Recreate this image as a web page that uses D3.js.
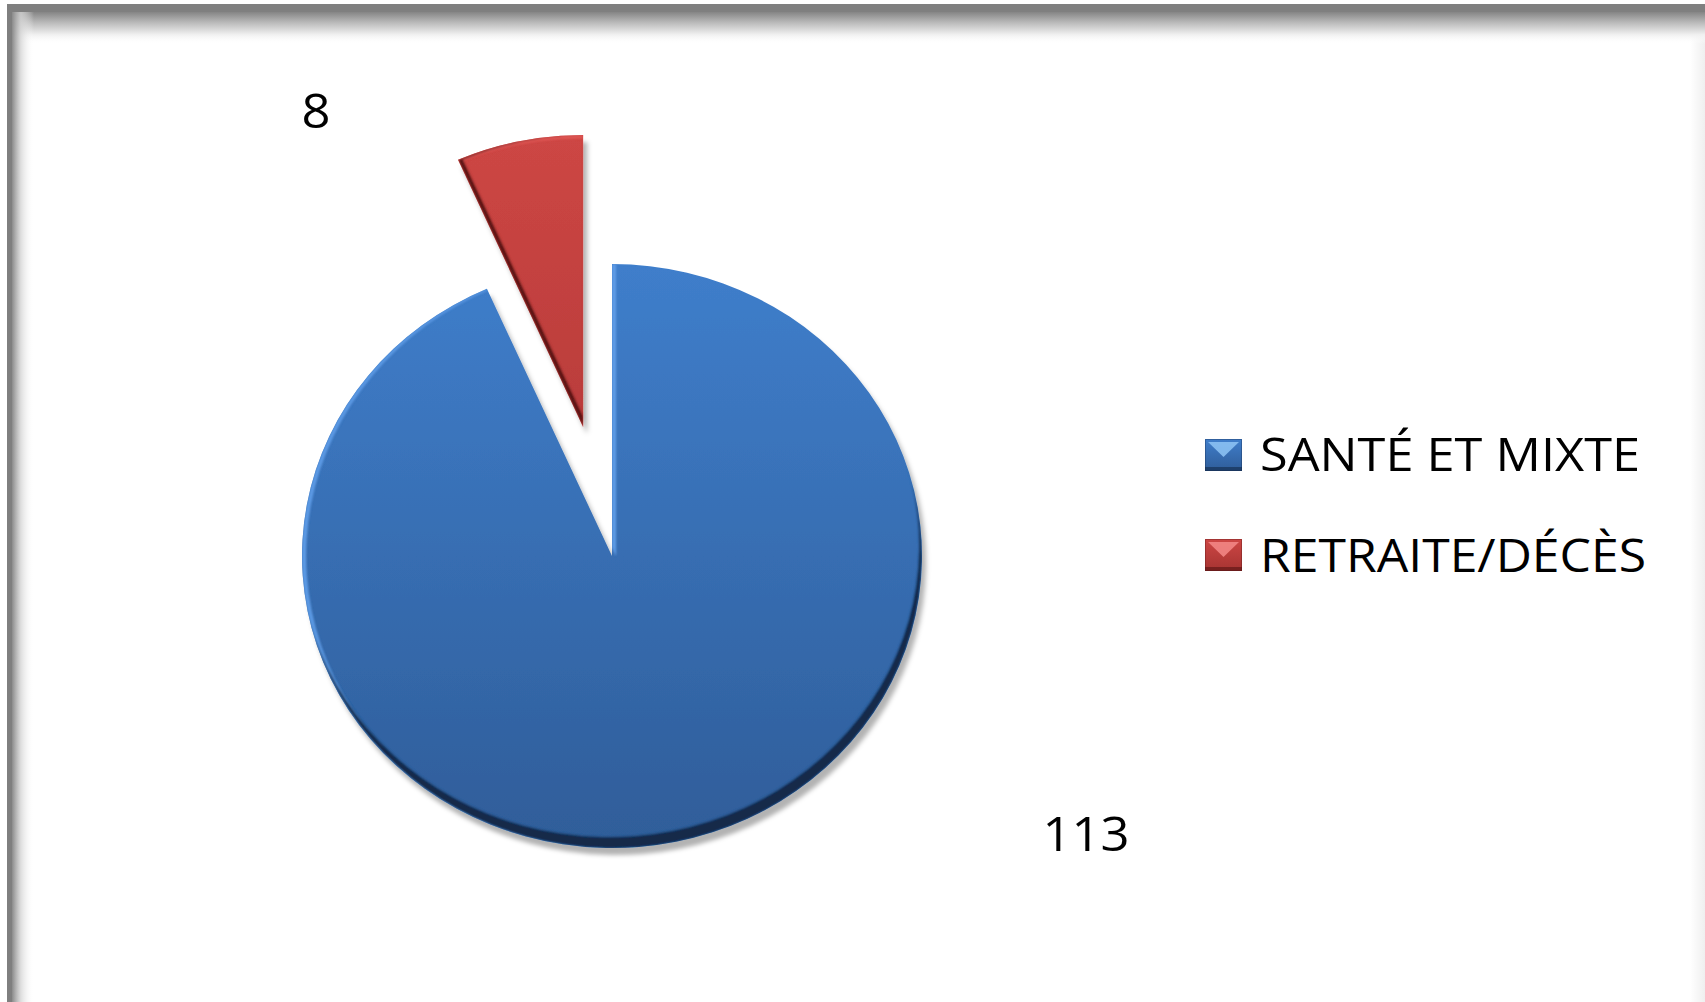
<!DOCTYPE html>
<html>
<head>
<meta charset="utf-8">
<script src="https://cdn.jsdelivr.net/npm/d3@7"></script>
<style>
  html, body { margin: 0; padding: 0; background: #ffffff; overflow: hidden; }
  svg { display: block; }
  text { font-family: "Open Sans", "Liberation Sans", sans-serif; fill: #000; }
</style>
</head>
<body>
<svg id="chart" width="1705" height="1002"></svg>
<script>
// ---- data ----
const categories = ["SANTÉ ET MIXTE", "RETRAITE/DÉCÈS"];
const values = [113, 8];
const valueLabels = ["113", "8"];
const exploded = [false, true];

// ---- styling / layout (not data) ----
const W = 1705, H = 1002;
const cx = 612, cy = 556, rx = 310, ry = 292;
const explodeDist = 140;
const stretch = 1.08;           // horizontal stretch of the original picture
const topColors = ["#3f7ecb", "#cd4644"];
const botColors = ["#2f5d99", "#a63432"];
const rimDark = ["#13294a", "#561313"];
const rimLight = ["#5d9be6", "#e45a58"];
const labelOffsets = [[474, 295], [-296, -428]];  // label anchor relative to pie centre
const legendX = 1205, legendY0 = 439, legendStep = 100;
const legendTextLen = [380, 386];

const svg = d3.select("#chart");
const defs = svg.append("defs");

// ---- frame ----
svg.append("rect").attr("x", 0).attr("y", 0).attr("width", W).attr("height", H).attr("fill", "#fff");
svg.append("rect").attr("x", 7).attr("y", 4).attr("width", W - 7).attr("height", H - 4).attr("fill", "#7f7f7f");
svg.append("rect").attr("x", 12).attr("y", 12).attr("width", W - 12).attr("height", H - 12).attr("fill", "#fff");
const gRight = defs.append("linearGradient").attr("id", "frameRight").attr("x1", 0).attr("y1", 0).attr("x2", 1).attr("y2", 0);
gRight.append("stop").attr("offset", 0).attr("stop-color", "#ffffff");
gRight.append("stop").attr("offset", 1).attr("stop-color", "#efefef");
svg.append("rect").attr("x", 1690).attr("y", 12).attr("width", 15).attr("height", H - 12).attr("fill", "url(#frameRight)");
const gTop = defs.append("linearGradient").attr("id", "frameTop").attr("x1", 0).attr("y1", 0).attr("x2", 0).attr("y2", 1);
gTop.append("stop").attr("offset", 0).attr("stop-color", "#858585");
gTop.append("stop").attr("offset", 0.35).attr("stop-color", "#bdbdbd");
gTop.append("stop").attr("offset", 0.7).attr("stop-color", "#efefef");
gTop.append("stop").attr("offset", 1).attr("stop-color", "#ffffff").attr("stop-opacity", 0);
svg.append("rect").attr("x", 12).attr("y", 12).attr("width", W - 12).attr("height", 32).attr("fill", "url(#frameTop)");
const gLeft = defs.append("linearGradient").attr("id", "frameLeft").attr("x1", 0).attr("y1", 0).attr("x2", 1).attr("y2", 0);
gLeft.append("stop").attr("offset", 0).attr("stop-color", "#8a8a8a");
gLeft.append("stop").attr("offset", 0.4).attr("stop-color", "#d5d5d5").attr("stop-opacity", 0.8);
gLeft.append("stop").attr("offset", 1).attr("stop-color", "#ffffff").attr("stop-opacity", 0);
svg.append("rect").attr("x", 12).attr("y", 12).attr("width", 22).attr("height", H - 12).attr("fill", "url(#frameLeft)");

// ---- gradients for slices ----
values.forEach((v, i) => {
  const g = defs.append("linearGradient").attr("id", "slice" + i)
    .attr("gradientUnits", "userSpaceOnUse")
    .attr("x1", 0).attr("y1", -rx).attr("x2", 0).attr("y2", rx);
  g.append("stop").attr("offset", 0).attr("stop-color", topColors[i]);
  g.append("stop").attr("offset", 1).attr("stop-color", botColors[i]);
});

// bevel filters
function bevel(id, darkOff, lightOff, dark, light) {
  const f = defs.append("filter").attr("id", id)
    .attr("x", "-20%").attr("y", "-20%").attr("width", "140%").attr("height", "140%");
  f.append("feGaussianBlur").attr("in", "SourceAlpha").attr("stdDeviation", 2.5).attr("result", "sb");
  f.append("feOffset").attr("in", "sb").attr("dx", 4).attr("dy", 7).attr("result", "so");
  f.append("feFlood").attr("flood-color", "#000").attr("flood-opacity", 0.3).attr("result", "sc");
  f.append("feComposite").attr("in", "sc").attr("in2", "so").attr("operator", "in").attr("result", "shadow");

  f.append("feOffset").attr("in", "SourceAlpha").attr("dx", darkOff[0]).attr("dy", darkOff[1]).attr("result", "d1");
  f.append("feComposite").attr("in", "SourceAlpha").attr("in2", "d1").attr("operator", "out").attr("result", "d2");
  f.append("feGaussianBlur").attr("in", "d2").attr("stdDeviation", 1.2).attr("result", "d3");
  f.append("feComposite").attr("in", "d3").attr("in2", "SourceAlpha").attr("operator", "in").attr("result", "d4");
  f.append("feFlood").attr("flood-color", dark).attr("result", "dc");
  f.append("feComposite").attr("in", "dc").attr("in2", "d4").attr("operator", "in").attr("result", "darkRim");

  f.append("feOffset").attr("in", "SourceAlpha").attr("dx", lightOff[0]).attr("dy", lightOff[1]).attr("result", "l1");
  f.append("feComposite").attr("in", "SourceAlpha").attr("in2", "l1").attr("operator", "out").attr("result", "l2");
  f.append("feGaussianBlur").attr("in", "l2").attr("stdDeviation", 1).attr("result", "l3");
  f.append("feComposite").attr("in", "l3").attr("in2", "SourceAlpha").attr("operator", "in").attr("result", "l4");
  f.append("feFlood").attr("flood-color", light).attr("result", "lc");
  f.append("feComposite").attr("in", "lc").attr("in2", "l4").attr("operator", "in").attr("result", "lightRim");

  const m = f.append("feMerge");
  m.append("feMergeNode").attr("in", "shadow");
  m.append("feMergeNode").attr("in", "SourceGraphic");
  m.append("feMergeNode").attr("in", "lightRim");
  m.append("feMergeNode").attr("in", "darkRim");
}
bevel("bevel0", [-3, -12], [4, 0], rimDark[0], rimLight[0]);
bevel("bevel1", [5, 0], [0, 3], rimDark[1], rimLight[1]);

// ---- pie ----
const pie = d3.pie().sort(null).startAngle(0).endAngle(2 * Math.PI);
const arcs = pie(values);
const arc = d3.arc().innerRadius(0).outerRadius(rx);

const pieG = svg.append("g").attr("transform", `translate(${cx},${cy}) scale(1,${ry / rx})`);
pieG.selectAll("path.slice").data(arcs).join("path")
  .attr("class", "slice")
  .attr("d", arc)
  .attr("fill", (d, i) => `url(#slice${i})`)
  .attr("filter", (d, i) => `url(#bevel${i})`)
  .attr("transform", (d, i) => {
    if (!exploded[i]) return null;
    const a = (d.startAngle + d.endAngle) / 2;
    return `translate(${explodeDist * Math.sin(a)},${-explodeDist * Math.cos(a)})`;
  });

// ---- data labels ----
svg.selectAll("text.vlabel").data(arcs).join("text")
  .attr("class", "vlabel")
  .attr("font-size", 47)
  .attr("text-anchor", "middle")
  .attr("transform", (d, i) => `translate(${cx + labelOffsets[i][0]},${cy + labelOffsets[i][1]}) scale(${stretch},1)`)
  .text((d, i) => valueLabels[i]);

// ---- legend ----
values.forEach((v, i) => {
  const g = defs.append("linearGradient").attr("id", "sw" + i).attr("x1", 0).attr("y1", 0).attr("x2", 0).attr("y2", 1);
  g.append("stop").attr("offset", 0).attr("stop-color", topColors[i]);
  g.append("stop").attr("offset", 1).attr("stop-color", botColors[i]);
});
const leg = svg.append("g");
const items = leg.selectAll("g.item").data(categories).join("g")
  .attr("class", "item")
  .attr("transform", (d, i) => `translate(${legendX},${legendY0 + i * legendStep})`);
items.append("rect").attr("width", 37).attr("height", 32)
  .attr("fill", (d, i) => `url(#sw${i})`);
items.append("rect").attr("y", 28).attr("width", 37).attr("height", 4)
  .attr("fill", (d, i) => rimDark[i]).attr("opacity", 0.6);
items.append("path").attr("d", "M3,3 L34,3 L18.5,18 Z")
  .attr("fill", (d, i) => i === 0 ? "#8fc6f6" : "#f48a88").attr("opacity", 0.85);
items.append("rect").attr("x", 0.5).attr("y", 0.5).attr("width", 36).attr("height", 31)
  .attr("fill", "none").attr("stroke", (d, i) => rimDark[i]).attr("stroke-opacity", 0.35);
items.append("text")
  .attr("x", 55).attr("y", (d, i) => 32 + i)
  .attr("font-size", 46)
  .attr("textLength", (d, i) => legendTextLen[i])
  .attr("lengthAdjust", "spacingAndGlyphs")
  .text(d => d);
</script>
</body>
</html>
